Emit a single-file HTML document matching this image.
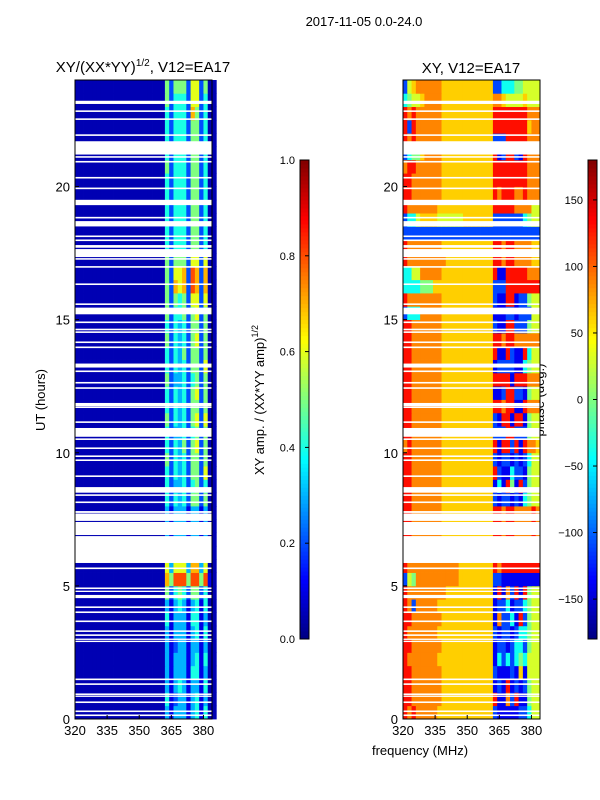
<!DOCTYPE html>
<html><head><meta charset="utf-8"><style>
html,body{margin:0;padding:0;background:#fff;}
svg{display:block;font-family:"Liberation Sans",sans-serif;}
</style></head><body>
<svg id="fig" width="600" height="800" viewBox="0 0 600 800">
<text x="364" y="26" font-size="13" text-anchor="middle">2017-11-05 0.0-24.0</text>
<text x="143" y="72" font-size="15" text-anchor="middle">XY/(XX*YY)<tspan dy="-6" font-size="10">1/2</tspan><tspan dy="6">, V12=EA17</tspan></text>
<text x="471" y="73" font-size="15" text-anchor="middle">XY, V12=EA17</text>
<text x="45" y="400" font-size="13" text-anchor="middle" transform="rotate(-90 45 400)">UT (hours)</text>
<text x="420" y="755" font-size="13" text-anchor="middle">frequency (MHz)</text>
<text x="264" y="400" font-size="13" text-anchor="middle" transform="rotate(-90 264 400)">XY amp. / (XX*YY amp)<tspan dy="-6" font-size="9">1/2</tspan></text>
<text x="544" y="400" font-size="13" text-anchor="middle" transform="rotate(-90 544 400)">phase (deg.)</text>
<g id="layer"></g>
</svg>
<script>
const freqMin = 320, freqMax = 384, binMHz = 2;
const hourMin = 0, hourMax = 24, rowHours = 0.5;
const xTicks = [320, 335, 350, 365, 380];
const yTicks = [0, 5, 10, 15, 20];
const ampTicks = [0.0, 0.2, 0.4, 0.6, 0.8, 1.0];
const phaseTicks = [-150, -100, -50, 0, 50, 100, 150];
// phase level (deg) for each digit code used in phaseRows
const phaseLevels = [-170, -140, -110, -40, 0, 30, 62, 88, 130, 165];
// amplitude digits (d/10), one row per 0.5 h from 0h upward, 32 bins of 2 MHz
const ampRows = [
"000000000000000000000313331341400","000000000000000000000412331341300","000000000000000000000313431331400","000000000000000000000313331441300",
"000000000000000000000313331341400","000000000000000000000312331331300","000000000000000000000313331341400","000000000000000000000413331441300",
"000000000000000000000313431341400","000000000000000000000524542552400","000000000000000000000758885885810","000000000000000000000636663773600",
"000000000000000000000313331331300","000000000000000000000313331331300","000000000000000000000313331331300","000000000000000000000313331331300",
"000000000000000000000424342552500","000000000000000000000423342452400","000000000000000000000424342552600","000000000000000000000524342552500",
"000000000000000000000424352562500","000000000000000000000423342452500","000000000000000000000524342562600","000000000000000000000424342552500",
"000000000000000000000424342562500","000000000000000000000523342452500","000000000000000000000424342552600","000000000000000000000424352552500",
"000000000000000000000524342562500","000000000000000000000424342552500","000000000000000000000524452562500","000000000000000000000525452662600",
"000000000000000000000527672872700","000000000000000000000526672872700","000000000000000000000525552662600","000000000000000000000424442552400",
"000000000000000000000424442552400","000000000000000000000424442552400","000000000000000000000424442552400","000000000000000000000424442552400",
"000000000000000000000424442552400","000000000000000000000524442552400","000000000000000000000424442552400","000000000000000000000424442552400",
"000000000000000000000424442552400","000000000000000000000424442752400","000000000000000000000524442662400","000000000000000000000525552662500"];
// phase digit codes (index into phaseLevels)
const phaseRows = [
"87877777666666666666621111122355","88777777766666666666681172811455","88777777766666666666612181212455","88777777766666666666621112161555",
"87777777666666666666613232343555","88777777766666666666612212332455","87777777666666666666621221233455","88777777766666666666617223182455",
"87277777666666666666612231223455","87777777776666666666618172818455","25477777777776666666622111111111","87777777777776666666687888888888",
"88777777766666666666688788777787","88777777766666666666688788777787","88777777766666666666688788777787","88777777766666666666688788777787",
"88777777766666666666621221213455","88777777766666666666613184182455","88777777766666666666682113221455","88777777766666666666621221212355",
"78777777766666666666681882818776","88777777766666666666622288222455","88777777766666666666621881881455","88777777766666666666688788118777",
"88777777766666666666611288221455","88777777766666666666688881888777","88777777766666666666612222113455","88777777766666666666681182118355",
"88777777766666666666688788777777","88777777766666666666621188222455","23337777766666666666611122122255","87777777766666666666621188122455",
"33334446666666666666622288888888","33557777766666666666681188888777","87777777776666666666688788777766","87777777766666666666688788777766",
"22222222222222222222222222222222","23356666555555666666622222223455","87777777666666666666688888777755","88777777766666666666687888778777",
"88777777766666666666688888888777","78877777766666666666688888888777","23446777766666666666681288218777","87877777766666666666622288888777",
"82877777766666666666688888888677","87877777766666666666688888888777","34556777766666666666677655556555","25677777766666666666622333445555"];
// flagged (no data) time intervals, hours
const flagStarts = [0.11,0.26,0.6,0.83,0.9,1.28,1.46,2.89,2.97,3.12,3.27,3.64,3.98,4.17,4.54,4.77,4.88,5.63,5.86,6.91,7.44,7.74,8.11,8.38,8.5,9.09,9.69,9.84,10.14,10.48,10.6,11.12,11.68,11.75,12.4,12.6,13.03,13.2,13.93,14.12,14.5,14.6,14.87,15.2,15.55,16.3,16.95,17.25,17.35,17.7,17.95,18.1,18.5,18.8,19.3,19.9,20.3,20.9,21.08,21.2,21.9,22.5,22.8,23.1];
const flagEnds   = [0.17,0.32,0.66,0.88,0.96,1.34,1.52,2.94,3.02,3.18,3.33,3.7,4.04,4.23,4.66,4.82,4.94,5.69,6.87,7.4,7.72,7.81,8.17,8.44,8.71,9.15,9.75,9.9,10.2,10.54,10.93,11.18,11.74,11.87,12.46,12.66,13.09,13.35,13.99,14.18,14.56,14.66,14.93,15.45,15.61,16.36,17.01,17.31,17.65,17.8,18.01,18.16,18.7,18.86,19.5,19.96,20.36,20.96,21.14,21.7,21.96,22.56,22.86,23.22];

const NS = "http://www.w3.org/2000/svg";
const layer = document.getElementById('layer');
const panels = [
  {x0:75, x1:212, kind:'amp', rows:ampRows, name:'amp'},
  {x0:403, x1:540, kind:'phase', rows:phaseRows, name:'phase'}];
const yTop = 80, yBot = 719;
function yScale(h){ return yBot - (h - hourMin) / (hourMax - hourMin) * (yBot - yTop); }
function xScaleFor(p){ return f => p.x0 + (f - freqMin) / (freqMax - freqMin) * (p.x1 - p.x0); }
function clamp(v){ return Math.max(0, Math.min(1, v)); }
function jet(t){
  const r = clamp(1.5 - Math.abs(4*t - 3)), g = clamp(1.5 - Math.abs(4*t - 2)), b = clamp(1.5 - Math.abs(4*t - 1));
  return `rgb(${Math.round(r*255)},${Math.round(g*255)},${Math.round(b*255)})`;
}
function mk(tag, attrs, parent){
  const e = document.createElementNS(NS, tag);
  for (const k in attrs) e.setAttribute(k, attrs[k]);
  (parent || layer).appendChild(e);
  return e;
}
function norm(kind, ch){
  const d = parseInt(ch, 10);
  if (kind === 'amp') return d === 0 ? 0.05 : d / 10;
  return (phaseLevels[d] + 180) / 360;
}
panels.forEach(p => {
  const xs = xScaleFor(p);
  const g = mk('g', {});
  
  
  p.rows.forEach((row, i) => {
    const h0 = hourMin + i * rowHours, h1 = h0 + rowHours;
    for (let j = 0; j < row.length; j++) {
      const f0 = freqMin + j * binMHz, f1 = f0 + binMHz;
      const xa = xs(f0), xb = xs(f1);
      const ya = yScale(h1), yb = yScale(h0);
      const r = mk('rect', {x: xa.toFixed(2), y: ya.toFixed(2), width: (xb - xa + 0.4).toFixed(2), height: (yb - ya + 0.4).toFixed(2), fill: jet(norm(p.kind, row[j]))}, g);
      
      
    }
  });
  flagStarts.forEach((s, k) => {
    const ya = yScale(flagEnds[k]), yb = yScale(s);
    const r = mk('rect', {x: p.x0, y: ya.toFixed(2), width: p.x1 - p.x0, height: Math.max(1.2, yb - ya).toFixed(2), fill: '#fff'}, g);
    
    
  });
  const fr = mk('rect', {x: p.x0, y: yTop, width: p.x1 - p.x0, height: yBot - yTop, fill: 'none', stroke: '#000', 'stroke-width': 1});
  
  
  xTicks.forEach(t => {
    const x = xs(t);
    const tk = mk('line', {x1: x, x2: x, y1: yBot, y2: yBot - 4, stroke: '#000'});
    
    
    const tl = mk('text', {x: x, y: yBot + 16, 'font-size': 13, 'text-anchor': 'middle'});
    tl.textContent = t;
    
    
  });
  yTicks.forEach(t => {
    const y = yScale(t);
    const tk = mk('line', {x1: p.x0, x2: p.x0 + 4, y1: y, y2: y, stroke: '#000'});
    
    
    const tl = mk('text', {x: p.x0 - 5, y: y + 5, 'font-size': 13, 'text-anchor': 'end'});
    tl.textContent = t;
    
    
  });
});
// colorbars
const cbTop = 160, cbBot = 639;
const bars = [{x: 300, min: 0, max: 1, ticks: ampTicks, name: 'amp-colorbar', fmt: v => v.toFixed(1)},
              {x: 588, min: -180, max: 180, ticks: phaseTicks, name: 'phase-colorbar', fmt: v => v < 0 ? '\u2212' + Math.abs(v) : String(v)}];
bars.forEach(b => {
  const g = mk('g', {});
  
  
  const n = 120;
  for (let i = 0; i < n; i++) {
    const y0 = cbBot - (i + 1) / n * (cbBot - cbTop);
    mk('rect', {x: b.x, y: y0.toFixed(2), width: 9, height: ((cbBot - cbTop) / n + 0.5).toFixed(2), fill: jet((i + 0.5) / n)}, g);
  }
  mk('rect', {x: b.x, y: cbTop, width: 9, height: cbBot - cbTop, fill: 'none', stroke: '#000'}, g);
  b.ticks.forEach(t => {
    const y = cbBot - (t - b.min) / (b.max - b.min) * (cbBot - cbTop);
    mk('line', {x1: b.x + 5, x2: b.x + 9, y1: y, y2: y, stroke: '#000'}, g);
    const tl = mk('text', {x: b.x - 5, y: y + 4, 'font-size': 11, 'text-anchor': 'end'}, g);
    tl.textContent = b.fmt(t);
    
    
  });
});
</script>
</body></html>
